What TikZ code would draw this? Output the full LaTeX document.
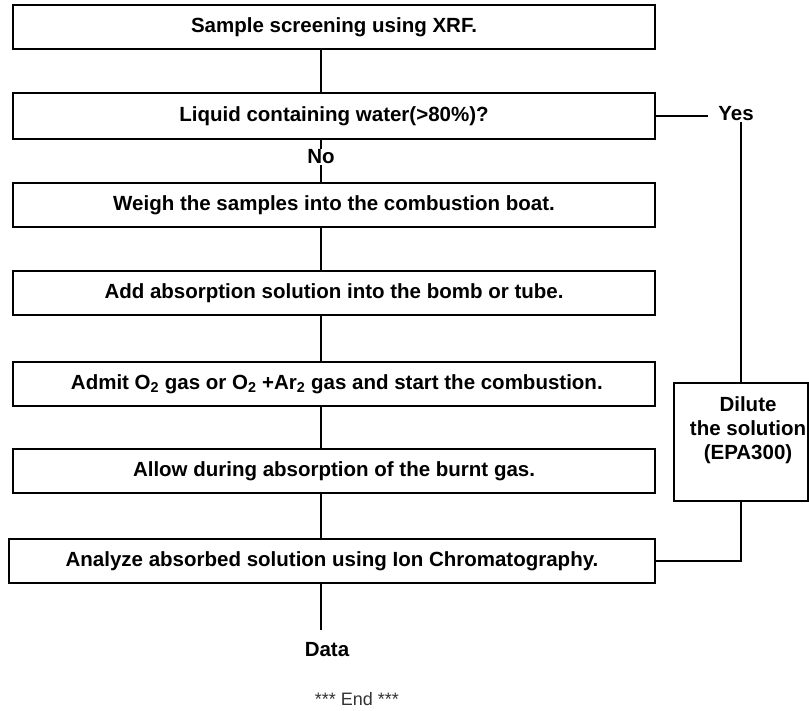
\documentclass[tikz,border=0pt]{standalone}
\usepackage{fontspec}
\setmainfont{Liberation Sans}
\usetikzlibrary{positioning}

\begin{document}
\begin{tikzpicture}[x=1pt,y=-1pt,
  conn/.style={line width=1.1pt},
  stepbox/.style={draw, conn, minimum width=642pt, minimum height=44pt, inner sep=0pt,
    font=\bfseries\fontsize{20.5}{24}\selectfont},
  lbl/.style={inner sep=1pt, font=\bfseries\fontsize{20.5}{24}\selectfont}]
\useasboundingbox (0,0) rectangle (809,710);
\coordinate (spine) at (321,0);

% main column
\node[stepbox] (screen) at (334,27) {Sample screening using XRF.};
\node[stepbox, minimum height=46pt] (water) at (334,116) {Liquid containing water(>80\%)?};
\node[stepbox] (weigh) at (334,205) {Weigh the samples into the combustion boat.};
\node[stepbox] (absorb) at (334,293) {Add absorption solution into the bomb or tube.};
\node[stepbox] (admit) at (334,384) {\ Admit O\textsubscript{2} gas or O\textsubscript{2} +Ar\textsubscript{2} gas and start the combustion.};
\node[stepbox] (allow) at (334,471) {Allow during absorption of the burnt gas.};
\node[stepbox, minimum width=646pt] (analyze) at (332,561) {Analyze absorbed solution using Ion Chromatography.};

% side branch
\node[lbl, inner xsep=10pt] (yes) at (736,114) {Yes};
\node[draw, conn, minimum width=134pt, minimum height=118pt] (dilute) at (741,442) {};
\node[lbl, align=center, below=13pt of dilute.north, xshift=7pt] (dilutetext) {Dilute\\the solution\\(EPA300)};

\node[lbl] (no) at (321,157) {No};
\node[lbl] (data) at (327,650) {Data};
\node[inner sep=0pt, font=\fontsize{18}{22}\selectfont, text=black!80] (theend) at (357,699) {*** End ***};

% connectors
\draw[conn] (screen.south -| spine) -- (water.north -| spine);
\draw[conn] (water.south -| spine) -- (no.north);
\draw[conn] (no.south) -- (weigh.north -| spine);
\draw[conn] (weigh.south -| spine) -- (absorb.north -| spine);
\draw[conn] (absorb.south -| spine) -- (admit.north -| spine);
\draw[conn] (admit.south -| spine) -- (allow.north -| spine);
\draw[conn] (allow.south -| spine) -- (analyze.north -| spine);
\draw[conn] (analyze.south -| spine) -- ([yshift=12pt]data.north -| spine);
\draw[conn] (water.east) -- (water.east -| yes.west);
\draw[conn] (yes.south -| dilute.north) -- (dilute.north);
\draw[conn] (dilute.south) |- (analyze.east);
\end{tikzpicture}
\end{document}
